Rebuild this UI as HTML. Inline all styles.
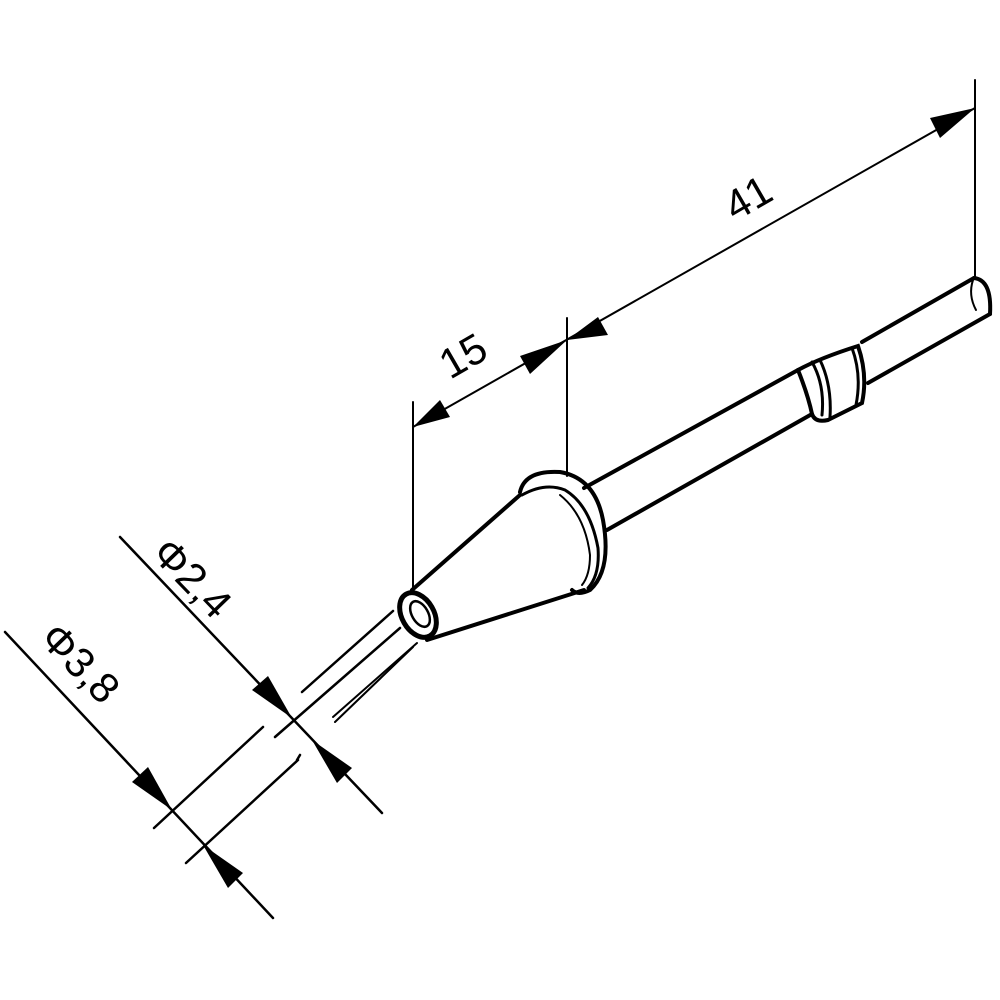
<!DOCTYPE html>
<html><head><meta charset="utf-8"><style>html,body{margin:0;padding:0;background:#fff}svg{display:block}</style></head>
<body>
<svg width="1000" height="1000" viewBox="0 0 1000 1000" xmlns="http://www.w3.org/2000/svg">
<rect width="1000" height="1000" fill="#fff"/>
<g stroke="#000" fill="none" stroke-linecap="round">
  <!-- extension lines -->
  <line x1="413" y1="402" x2="413" y2="592" stroke-width="2"/>
  <line x1="567" y1="318" x2="567" y2="476" stroke-width="2"/>
  <line x1="975" y1="80" x2="975" y2="278" stroke-width="2"/>
  <!-- 15 / 41 dims -->
  <line x1="413" y1="427" x2="975" y2="108" stroke-width="2"/>
  <!-- rear shaft -->
  <line x1="974" y1="278" x2="862" y2="342" stroke-width="4"/>
  <line x1="990" y1="314" x2="868" y2="383" stroke-width="4"/>
  <path d="M974 278 Q992 280 990 314" stroke-width="4"/>
  <path d="M973 280 Q968 295 976 310" stroke-width="2"/>
  <!-- ring section -->
  <path d="M798 370 Q820 358 858 346 Q868 375 862 403 L828 420 Q815 423 812 414" stroke-width="4"/>
  <path d="M798 370 Q808 395 812 414" stroke-width="4"/>
  <path d="M812 362 Q825 385 822 415" stroke-width="3"/>
  <path d="M820 360 Q832 385 830 417" stroke-width="3"/>
  <path d="M852 348 Q862 375 856 405" stroke-width="3"/>
  <!-- middle shaft -->
  <line x1="798" y1="370" x2="584" y2="488" stroke-width="4"/>
  <line x1="812" y1="414" x2="607" y2="530" stroke-width="4"/>
  <!-- flange -->
  <path d="M520 492 Q525 470 560 472 Q595 478 603 520 Q612 570 590 590 Q578 596 572 590" stroke-width="4"/>
  <path d="M522 495 Q545 482 565 490 Q590 505 598 548 Q600 575 588 588" stroke-width="3"/>
  <path d="M560 495 Q585 515 590 555 Q590 575 582 585" stroke-width="2"/>
  <!-- cone -->
  <line x1="520" y1="495" x2="412" y2="590" stroke-width="4"/>
  <line x1="584" y1="590" x2="427" y2="640" stroke-width="4"/>
  <!-- nozzle -->
  <ellipse cx="418" cy="615" rx="16" ry="24" transform="rotate(-30 418 615)" stroke-width="5"/>
  <ellipse cx="420" cy="614" rx="8" ry="14" transform="rotate(-30 420 614)" stroke-width="2.5"/>
  <!-- tube -->
  <line x1="393" y1="611" x2="302" y2="692" stroke-width="2.5"/>
  <line x1="400" y1="628" x2="275" y2="737" stroke-width="2.5"/>
  <line x1="417" y1="643" x2="333" y2="717" stroke-width="2"/>
  <line x1="413" y1="647" x2="335" y2="722" stroke-width="2"/>
  <line x1="300" y1="755" x2="297" y2="760" stroke-width="2.5"/>
  <line x1="298" y1="760" x2="186" y2="863" stroke-width="2.5"/>
  <line x1="263" y1="727" x2="154" y2="828" stroke-width="2.5"/>
  <!-- dia dims -->
  <line x1="120" y1="537" x2="382" y2="813" stroke-width="2.5"/>
  <line x1="5" y1="632" x2="273" y2="918" stroke-width="2.5"/>
</g>
<g fill="#000">
  <polygon points="413,427 440,400 450,417"/>
  <polygon points="567,340 520,356 530,374"/>
  <polygon points="567,340 598,317 608,335"/>
  <polygon points="975,108 930,118 940,138"/>
  <polygon points="292,718 252,690 268,676"/>
  <polygon points="312,740 352,768 337,783"/>
  <polygon points="172,810 132,782 148,767"/>
  <polygon points="203,845 243,873 228,888"/>
</g>
<g font-family="Liberation Sans, sans-serif" font-size="42" fill="#000">
  <text x="450" y="380" transform="rotate(-30 450 380)">15</text>
  <text x="735" y="222" transform="rotate(-30 735 222)">41</text>
  <text x="150" y="555" transform="rotate(46 150 555)">Φ2,4</text>
  <text x="38" y="640" transform="rotate(46 38 640)">Φ3,8</text>
</g>
</svg>
</body></html>
